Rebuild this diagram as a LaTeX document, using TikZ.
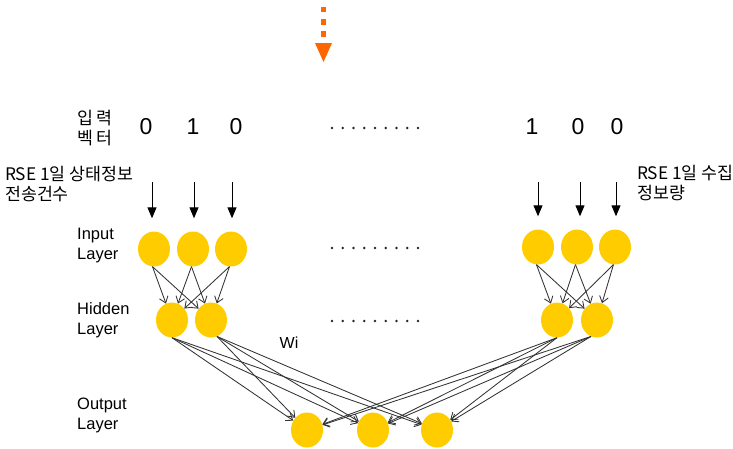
\documentclass[tikz,border=0pt]{standalone}
\usepackage{fontspec}
\setmainfont{Liberation Sans}
\newfontfamily\krfont{Noto Sans CJK KR}
\usetikzlibrary{arrows.meta,shapes.geometric}
\definecolor{gold}{RGB}{255,204,0}
\definecolor{cue}{RGB}{255,102,0}

\begin{document}
\begin{tikzpicture}[x=1pt,y=-1pt,
  neuron/.style={ellipse,fill=gold,minimum width=32pt,minimum height=35pt,inner sep=0pt},
  feed/.style={line width=1pt,-{Triangle[length=11pt,width=9pt]}},
  wire/.style={line width=0.85pt,draw=black!80,-{Straight Barb[length=6pt,width=9pt]}},
  lbl/.style={font=\fontsize{16.5}{20}\selectfont,align=left,anchor=west,inner sep=0pt},
  krlbl/.style={font=\krfont\fontsize{17.3}{19.5}\selectfont,align=left,anchor=west,inner sep=0pt},
  digit/.style={font=\fontsize{23}{23}\selectfont,inner sep=0pt}]
\useasboundingbox (0,0) rectangle (733,448);

% orange dotted cue arrow
\foreach \yy in {9.5,22,34}
  \fill[cue] (320.7,\yy-2.8) rectangle (326.3,\yy+2.8);
\fill[cue] (315,43) -- (332,43) -- (323.5,62) -- cycle;

% input vector
\node[krlbl,anchor=center,align=center] (vec) at (95,128) {입 력\\벡 터};
\node[digit] (d1) at (146,127) {0};
\node[digit] (d2) at (193,127) {1};
\node[digit] (d3) at (236,127) {0};
\node[digit] (d4) at (532,127) {1};
\node[digit] (d5) at (578,127) {0};
\node[digit] (d6) at (617,127) {0};

\node[krlbl] (lt) at (5,184) {RSE 1일 상태정보\\전송건수};
\node[krlbl] (rt) at (637,183) {RSE 1일 수집\\정보량};

% layer captions
\node[lbl] (cin)  at (77,246) {Input\\Layer};
\node[lbl] (chid) at (77,320) {Hidden\\Layer};
\node[lbl] (cout) at (77,415) {Output\\Layer};
\node[font=\fontsize{16}{16}\selectfont,inner sep=0pt] (wi) at (289,343) {Wi};

% ellipsis dots
\foreach \r in {128,248,321}
  \foreach \k in {0,...,8}
    \fill[black!85] (332+\k*10.75,\r) circle (1.3pt);

% neurons
\node[neuron] (i1) at (154,249) {};
\node[neuron] (i2) at (193,249) {};
\node[neuron] (i3) at (231,249) {};
\node[neuron] (j1) at (538,247) {};
\node[neuron] (j2) at (577,247) {};
\node[neuron] (j3) at (615,247) {};
\node[neuron] (h1) at (172,320) {};
\node[neuron] (h2) at (211,320) {};
\node[neuron] (k1) at (557,320) {};
\node[neuron] (k2) at (597,320) {};
\node[neuron] (o1) at (307,430) {};
\node[neuron] (o2) at (373,430) {};
\node[neuron] (o3) at (437,430) {};

% feeding arrows into the input layer
\coordinate (t1) at (152,182);
\coordinate (t2) at (194,182);
\coordinate (t3) at (232,182);
\coordinate (t4) at (538,182);
\coordinate (t5) at (580,182);
\coordinate (t6) at (616,182);
\draw[feed,shorten >=13pt] (t1) -- (t1 |- i1.north);
\draw[feed,shorten >=13pt] (t2) -- (t2 |- i2.north);
\draw[feed,shorten >=13pt] (t3) -- (t3 |- i3.north);
\draw[feed,shorten >=13pt] (t4) -- (t4 |- j1.north);
\draw[feed,shorten >=13pt] (t5) -- (t5 |- j2.north);
\draw[feed,shorten >=13pt] (t6) -- (t6 |- j3.north);

% input -> hidden
\foreach \a in {i1,i2,i3}
  \foreach \b in {h1,h2}
    \draw[wire] (\a.-95) -- (\b);
\foreach \a in {j1,j2,j3}
  \foreach \b in {k1,k2}
    \draw[wire] (\a.-95) -- (\b);

% hidden -> output
\foreach \b in {o1,o2,o3} {
  \draw[wire] (h1.-90) -- (\b);
  \draw[wire] (h2.-70) -- (\b);
  \draw[wire] (k1.-90) -- (\b);
  \draw[wire] (k2.-110) -- (\b);
}
\end{tikzpicture}
\end{document}
